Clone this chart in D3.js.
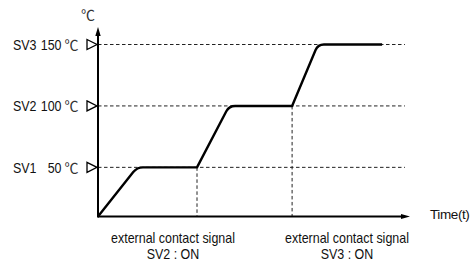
<!DOCTYPE html>
<html>
<head>
<meta charset="utf-8">
<script src="https://cdn.jsdelivr.net/npm/d3@7"></script>
<style>
  body { margin: 0; background: #fff; }
  svg { display: block; }
  text { font-family: "Liberation Sans", Arial, sans-serif; font-size: 15px; fill: #111; }
  .unit { font-family: "Noto Sans CJK KR", "DejaVu Sans", sans-serif; font-size: 14px; fill: #333; }
  .tlabel { font-size: 13.5px; letter-spacing: -0.4px; }
</style>
</head>
<body>
<div id="chart"></div>
<script>
// set values
var setNames = ["SV1", "SV2", "SV3"];
var setLevels = [50, 100, 150];

// temperature profile (time in arbitrary units, temp in degC)
var profileTime = [0, 13, 33, 43.7, 64.7, 73.3, 94.7];
var profileTemp = [10, 50, 50, 100, 100, 150, 150];

// external contact events
var eventTime = [33, 64.7];
var eventLevel = [50, 100];
var labelTime = [25, 83];
var labelLine1 = ["external contact signal", "external contact signal"];
var labelLine2 = ["SV2 : ON", "SV3 : ON"];

var width = 474, height = 260;
var margin = {left: 98, right: 64, top: 27, bottom: 43.5};
var condense = 0.83;

var svg = d3.select("#chart").append("svg")
    .attr("width", width)
    .attr("height", height);

var x = d3.scaleLinear().domain([0, 104]).range([margin.left, width - margin.right]);
var y = d3.scaleLinear().domain([10, 150]).range([height - margin.bottom, 44.5]);

var dashEnd = 102.3;

// dashed set value lines
svg.selectAll(".svline").data(setLevels).enter().append("line")
    .attr("class", "svline")
    .attr("x1", x(0)).attr("x2", x(dashEnd))
    .attr("y1", function(d){ return y(d); })
    .attr("y2", function(d){ return y(d); })
    .attr("stroke", "#222").attr("stroke-width", 1)
    .attr("stroke-dasharray", "3.5,2.5");

// dashed event lines
svg.selectAll(".evline").data(eventTime).enter().append("line")
    .attr("class", "evline")
    .attr("x1", function(d){ return x(d); })
    .attr("x2", function(d){ return x(d); })
    .attr("y1", function(d, i){ return y(eventLevel[i]); })
    .attr("y2", y(10))
    .attr("stroke", "#222").attr("stroke-width", 1)
    .attr("stroke-dasharray", "3.5,2.5");

// profile curve with rounded corners at top of each ramp
var pts = profileTime.map(function(t, i){ return [x(t), y(profileTemp[i])]; });
var r = 6;
var p = d3.path();
p.moveTo(pts[0][0], pts[0][1]);
for (var i = 1; i < pts.length; i++) {
    var a = pts[i - 1], b = pts[i];
    if (i % 2 == 1 && i < pts.length - 1) {
        var c = pts[i + 1];
        var d1 = Math.hypot(b[0] - a[0], b[1] - a[1]);
        var d2 = Math.hypot(c[0] - b[0], c[1] - b[1]);
        p.lineTo(b[0] - (b[0] - a[0]) * r / d1, b[1] - (b[1] - a[1]) * r / d1);
        p.quadraticCurveTo(b[0], b[1], b[0] + (c[0] - b[0]) * r / d2, b[1] + (c[1] - b[1]) * r / d2);
    } else {
        p.lineTo(b[0], b[1]);
    }
}
svg.append("path")
    .attr("d", p.toString())
    .attr("fill", "none")
    .attr("stroke", "#000")
    .attr("stroke-width", 2.4)
    .attr("stroke-linejoin", "round");

// axes
var x0 = x(0), y0 = y(10);
var xEnd = x(104), yEnd = margin.top;
svg.append("line").attr("x1", x0).attr("x2", xEnd - 6).attr("y1", y0).attr("y2", y0)
    .attr("stroke", "#000").attr("stroke-width", 2);
svg.append("line").attr("x1", x0).attr("x2", x0).attr("y1", y0 + 1).attr("y2", yEnd + 6)
    .attr("stroke", "#000").attr("stroke-width", 2);
svg.append("path")
    .attr("d", "M" + xEnd + "," + y0 + "L" + (xEnd - 9) + "," + (y0 - 2.6) + "L" + (xEnd - 9) + "," + (y0 + 2.6) + "Z")
    .attr("fill", "#000");
svg.append("path")
    .attr("d", "M" + x0 + "," + yEnd + "L" + (x0 - 2.7) + "," + (yEnd + 9) + "L" + (x0 + 2.7) + "," + (yEnd + 9) + "Z")
    .attr("fill", "#000");

// set value markers and labels
var g = svg.selectAll(".sv").data(setLevels).enter().append("g")
    .attr("class", "sv")
    .attr("transform", function(d){ return "translate(0," + y(d) + ")"; });
g.append("path")
    .attr("d", "M87,-5L97,0L87,5Z")
    .attr("fill", "#fff").attr("stroke", "#000").attr("stroke-width", 1.3);
g.append("text")
    .attr("class", "cond")
    .attr("x", 13).attr("dy", "0.36em")
    .text(function(d, i){ return setNames[i]; });
g.append("text")
    .attr("class", "cond")
    .attr("x", 61.5).attr("dy", "0.36em")
    .attr("text-anchor", "end")
    .text(function(d){ return d; });
g.append("text")
    .attr("class", "unit")
    .attr("x", 64.5).attr("dy", "0.38em")
    .text("℃");

// axis titles
svg.append("text").attr("class", "unit")
    .attr("x", 81).attr("y", 20)
    .text("℃");
svg.append("text")
    .attr("class", "tlabel")
    .attr("x", 430).attr("y", 219)
    .text("Time(t)");

// event labels
var lg = svg.selectAll(".ev").data(labelTime).enter().append("g").attr("class", "ev");
lg.append("text")
    .attr("class", "cond")
    .attr("x", function(d){ return x(d); })
    .attr("y", 243)
    .attr("text-anchor", "middle")
    .text(function(d, i){ return labelLine1[i]; });
lg.append("text")
    .attr("class", "cond")
    .attr("x", function(d){ return x(d); })
    .attr("y", 258.5)
    .attr("text-anchor", "middle")
    .text(function(d, i){ return labelLine2[i]; });

// squeeze glyphs to mimic the narrow face of the original
svg.selectAll("text.cond").each(function(){
    var w = this.getComputedTextLength();
    d3.select(this)
        .attr("textLength", w * condense)
        .attr("lengthAdjust", "spacingAndGlyphs");
});
</script>
</body>
</html>
